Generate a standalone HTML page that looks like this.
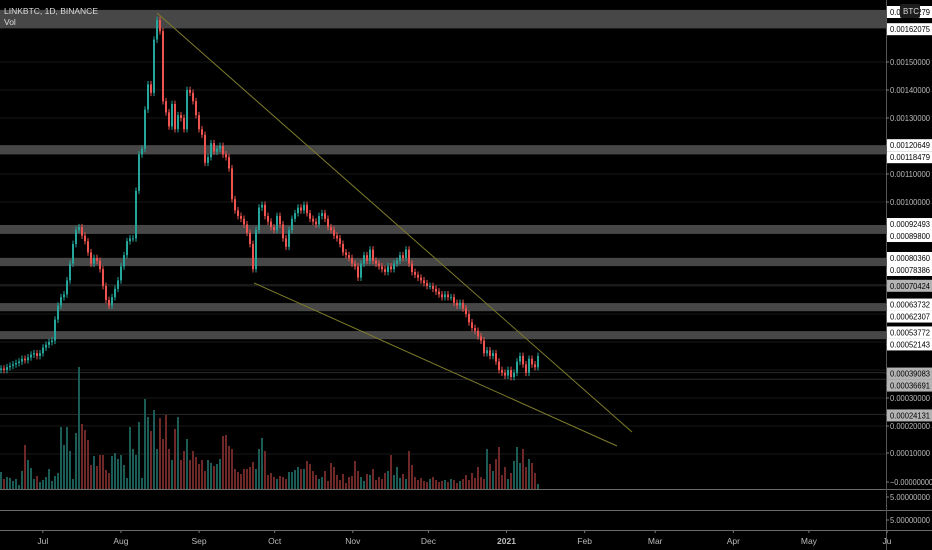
<!DOCTYPE html>
<html><head><meta charset="utf-8"><style>
html,body{margin:0;padding:0;background:#000;}
#wrap{position:relative;width:932px;height:550px;overflow:hidden;background:#000;font-family:"Liberation Sans",sans-serif;}
svg text{font-family:"Liberation Sans",sans-serif;}
</style></head><body>
<div id="wrap">
<svg id="chart" width="932" height="550"></svg>
</div>
<script>
// price closes in units of 1e-5 BTC
const closes=[40.5,40,41,41.5,42,42.5,43,44,43.5,44.5,45.5,46,45,46,48,49,50,50.5,58,63,66,67,72,78,85,90,91,88,86,82,78,80,79,76,70,65,63,66,69,72,77,81,86,87,87,104,117,119,133,142,139,158,165,161,136,132,127,135,126,131,130,126,140,139,136,131,126,124,114,116,121,118,119,120,117,116,112,101,97,95,94,92,89,85,76,90,98,99,95,93,91,90,95,92,87,84,90,94,96,98,97,99,96,94,93,92,95,96,94,91,90,88,87,85,82,81,80,78,77,73,78,81,79,83,79,78,77,76,75,77,76,78,79,81,80,83,78,75,74,73,72,71,70,70,69,68,67,66,67,66,66,64,63,64,62,60,57,55,54,52,50.5,46,47,45,46,43,40,39,38,40,37.5,39,43,45,42,39,44,42,41,45];
const volumes=[17,10,12,11,8,10,4,18,44,29,21,10,13,7,9,12,20,8,13,16,62,44,62,38,10,56,122,65,59,49,24,33,23,34,34,19,16,33,36,30,34,24,11,62,40,34,67,11,90,72,58,79,40,71,50,74,40,29,60,72,29,38,50,29,38,32,25,29,18,29,26,23,25,30,53,54,43,40,20,17,15,20,20,22,27,20,40,51,38,14,16,12,10,13,12,10,17,17,19,22,20,20,28,25,18,14,10,12,18,8,26,22,14,9,15,6,12,13,28,18,12,8,15,14,20,9,12,10,16,18,34,14,22,11,15,10,38,24,12,9,11,8,7,10,12,9,7,8,9,7,10,9,6,8,10,14,9,16,11,22,12,10,40,25,18,30,42,14,22,10,16,28,42,26,40,22,30,26,16,5];
const priceTicks=[150,140,130,110,100,30,20];
const levelLabels=[162.075,120.649,118.479,92.493,89.8,80.36,78.386,70.424,63.732,62.307,53.772,52.143,39.083,36.691,24.131];
const grayLabels=[70.424,39.083,36.691,24.131];
const monthLabels=["Jul","Aug","Sep","Oct","Nov","Dec","2021","Feb","Mar","Apr","May","Ju"];
const monthDay=[17,48,79,109,140,170,201,232,260,291,321,352]; // day index from Jun 14
const bands=[[162,168.6],[117,120.3],[88.6,91.8],[77.1,80],[61,63.9],[51,53.9]];

const NS="http://www.w3.org/2000/svg";
const svg=document.getElementById('chart');
function el(t,a,p){const e=document.createElementNS(NS,t);for(const k in a)e.setAttribute(k,a[k]);(p||svg).appendChild(e);return e;}
const y=p=>482-p*2.8;
const x=i=>1+i*3;
const xd=d=>d*2.52;
const vy=v=>489-v;
const AX=886;

const grid=el('g',{});

[150,140,130,120,110,100,90,80,70,60,50,40,30,20,10].forEach(p=>{
  el('line',{x1:0,x2:AX,y1:y(p),y2:y(p),stroke:'#181818','stroke-width':1},grid);
});
const bg=el('g',{});

bands.forEach(b=>{
  const r=el('rect',{x:0,width:AX,y:y(b[1]),height:y(b[0])-y(b[1]),fill:'#474747'},bg);
  
});
[70.424,39.083,36.691,24.131].forEach(p=>{
  el('line',{x1:0,x2:AX,y1:y(p),y2:y(p),stroke:'#2a2a2a','stroke-width':1},bg);
});

const vg=el('g',{});

volumes.forEach((v,i)=>{
  const o=i?closes[i-1]:closes[0];const up=closes[i]>=o;
  const r=el('rect',{x:x(i)-1,width:2,y:vy(v),height:v,fill:up?'#1b5c57':'#6e2828'},vg);
  
});

const cg=el('g',{});

closes.forEach((c,i)=>{
  const o=i?closes[i-1]:c-0.5;const up=c>=o;const col=up?'#26a69a':'#ef5350';
  const hi=Math.max(o,c)+1.2,lo=Math.min(o,c)-1.2;
  const g=el('g',{},cg);
  
  el('line',{x1:x(i),x2:x(i),y1:y(hi),y2:y(lo),stroke:col,'stroke-width':1},g);
  const t=y(Math.max(o,c)),b=y(Math.min(o,c));
  el('rect',{x:x(i)-1,width:2,y:t,height:Math.max(1,b-t),fill:col},g);
});

const tl1=el('line',{x1:157,y1:13,x2:632,y2:432,stroke:'#7d7b2a','stroke-width':1});

const tl2=el('line',{x1:254,y1:283,x2:617,y2:446,stroke:'#7d7b2a','stroke-width':1});


[489,510,530].forEach(v=>{const l=el('line',{x1:0,x2:932,y1:v+0.5,y2:v+0.5,stroke:'#6a6a6a','stroke-width':1});});
const ax=el('line',{x1:AX+0.5,x2:AX+0.5,y1:0,y2:550,stroke:'#555','stroke-width':1});


const pa=el('g',{});

function tickLabel(txt,yy,boxed,gray){
  el('line',{x1:AX,x2:AX+3,y1:yy,y2:yy,stroke:'#777'},pa);
  if(boxed){el('rect',{x:AX+1,y:yy-6,width:45,height:12,fill:gray?'#b4b4b4':'#fff'},pa);}
  const t=el('text',{x:AX+4,y:yy+3,'font-size':8,fill:boxed?'#000':'#bbb',textLength:txt.length>10?43:40,lengthAdjust:'spacingAndGlyphs'},pa);t.textContent=txt;
  
}
priceTicks.forEach(p=>tickLabel((p/1e5).toFixed(8),y(p),false));
let lastY=-100;
levelLabels.forEach(p=>{let yy=y(p)+1;if(yy<lastY+12)yy=lastY+12;lastY=yy;tickLabel((p/1e5).toFixed(8),yy,true,grayLabels.includes(p));});
tickLabel('0.00010000',y(10)-1,false);
tickLabel('\u22120.00000000',482,false);
tickLabel('5.00000000',497,false);
tickLabel('5.00000000',520,false);
el('rect',{x:AX+1,y:6,width:45,height:12,fill:'#fff'},pa);
const tt=el('text',{x:AX+4,y:15,'font-size':8,fill:'#000',textLength:40,lengthAdjust:'spacingAndGlyphs'},pa);tt.textContent='0.00166279';
const btc=el('rect',{x:900,y:4,width:20,height:14,fill:'#1e1e1e',rx:2});

const bt=el('text',{x:903,y:14,'font-size':8,fill:'#ddd'});bt.textContent='BTC';

const ta=el('g',{});

monthLabels.forEach((m,i)=>{
  const xx=xd(monthDay[i]);
  el('line',{x1:xx,x2:xx,y1:530,y2:533,stroke:'#777'},ta);
  const t=el('text',{x:xx,y:544,'font-size':8.5,fill:'#bbb','text-anchor':'middle','font-weight':m==='2021'?'bold':'normal'},ta);
  t.textContent=m;
});

const lg=el('text',{x:4,y:14,'font-size':8.5,fill:'#ddd'});lg.textContent='LINKBTC, 1D, BINANCE';

const lv=el('text',{x:4,y:25,'font-size':8.5,fill:'#ddd'});lv.textContent='Vol';

</script>
</body></html>
